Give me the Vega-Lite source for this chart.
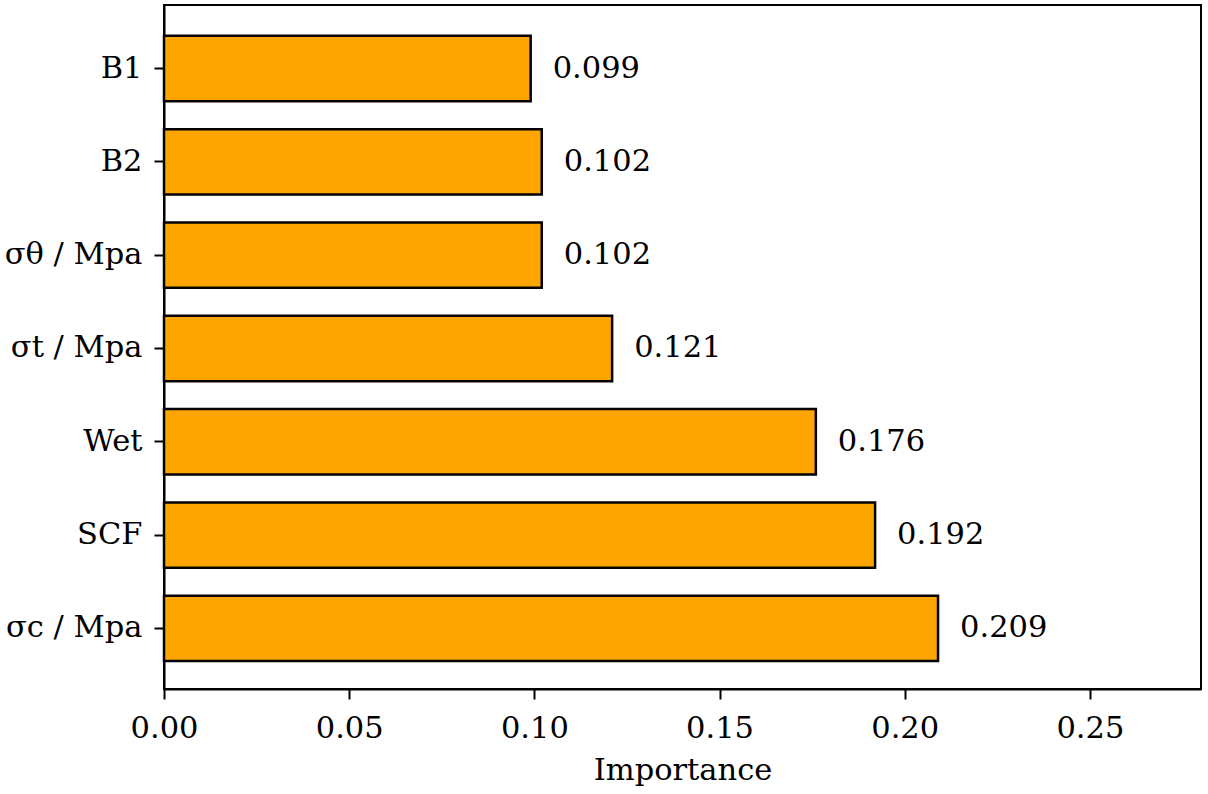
{
  "$schema": "https://vega.github.io/schema/vega-lite/v6.json",
  "width": 1037,
  "height": 684,
  "autosize": "none",
  "padding": {"left": 164, "top": 5, "right": 7, "bottom": 105},
  "background": "white",
  "config": {
    "font": "DejaVu Serif",
    "view": {"stroke": "black", "strokeWidth": 2}
  },
  "data": {
    "values": [
      {"feature": "B1", "importance": 0.099, "label": "0.099"},
      {"feature": "B2", "importance": 0.102, "label": "0.102"},
      {"feature": "σθ / Mpa", "importance": 0.102, "label": "0.102"},
      {"feature": "σt / Mpa", "importance": 0.121, "label": "0.121"},
      {"feature": "Wet", "importance": 0.176, "label": "0.176"},
      {"feature": "SCF", "importance": 0.192, "label": "0.192"},
      {"feature": "σc / Mpa", "importance": 0.209, "label": "0.209"}
    ]
  },
  "encoding": {
    "y": {
      "field": "feature",
      "type": "nominal",
      "sort": null,
      "scale": {"paddingInner": 0.3, "paddingOuter": 0.315, "align": 0.525},
      "axis": {
        "title": null,
        "labelFont": "DejaVu Serif",
        "labelFontSize": 30.5,
        "labelColor": "black",
        "labelPadding": 12,
        "tickSize": 10,
        "tickWidth": 2,
        "tickColor": "black",
        "domainColor": "black",
        "domainWidth": 2
      }
    },
    "x": {
      "field": "importance",
      "type": "quantitative",
      "scale": {"domain": [0, 0.28], "nice": false, "zero": true},
      "axis": {
        "title": "Importance",
        "titleFont": "DejaVu Serif",
        "titleFontSize": 30.5,
        "titleFontWeight": "normal",
        "titleColor": "black",
        "titlePadding": 12,
        "values": [0, 0.05, 0.1, 0.15, 0.2, 0.25],
        "format": ".2f",
        "labelFont": "DejaVu Serif",
        "labelFontSize": 30.5,
        "labelColor": "black",
        "labelPadding": 14,
        "labelFlush": false,
        "tickSize": 10,
        "tickWidth": 2,
        "tickColor": "black",
        "domainColor": "black",
        "domainWidth": 2,
        "grid": false
      }
    }
  },
  "layer": [
    {
      "mark": {"type": "bar", "color": "#FFA500", "stroke": "black", "strokeWidth": 2.5}
    },
    {
      "mark": {"type": "text", "align": "left", "baseline": "middle", "dx": 22, "font": "DejaVu Serif", "fontSize": 30.5, "color": "black"},
      "encoding": {"text": {"field": "label"}}
    }
  ]
}
